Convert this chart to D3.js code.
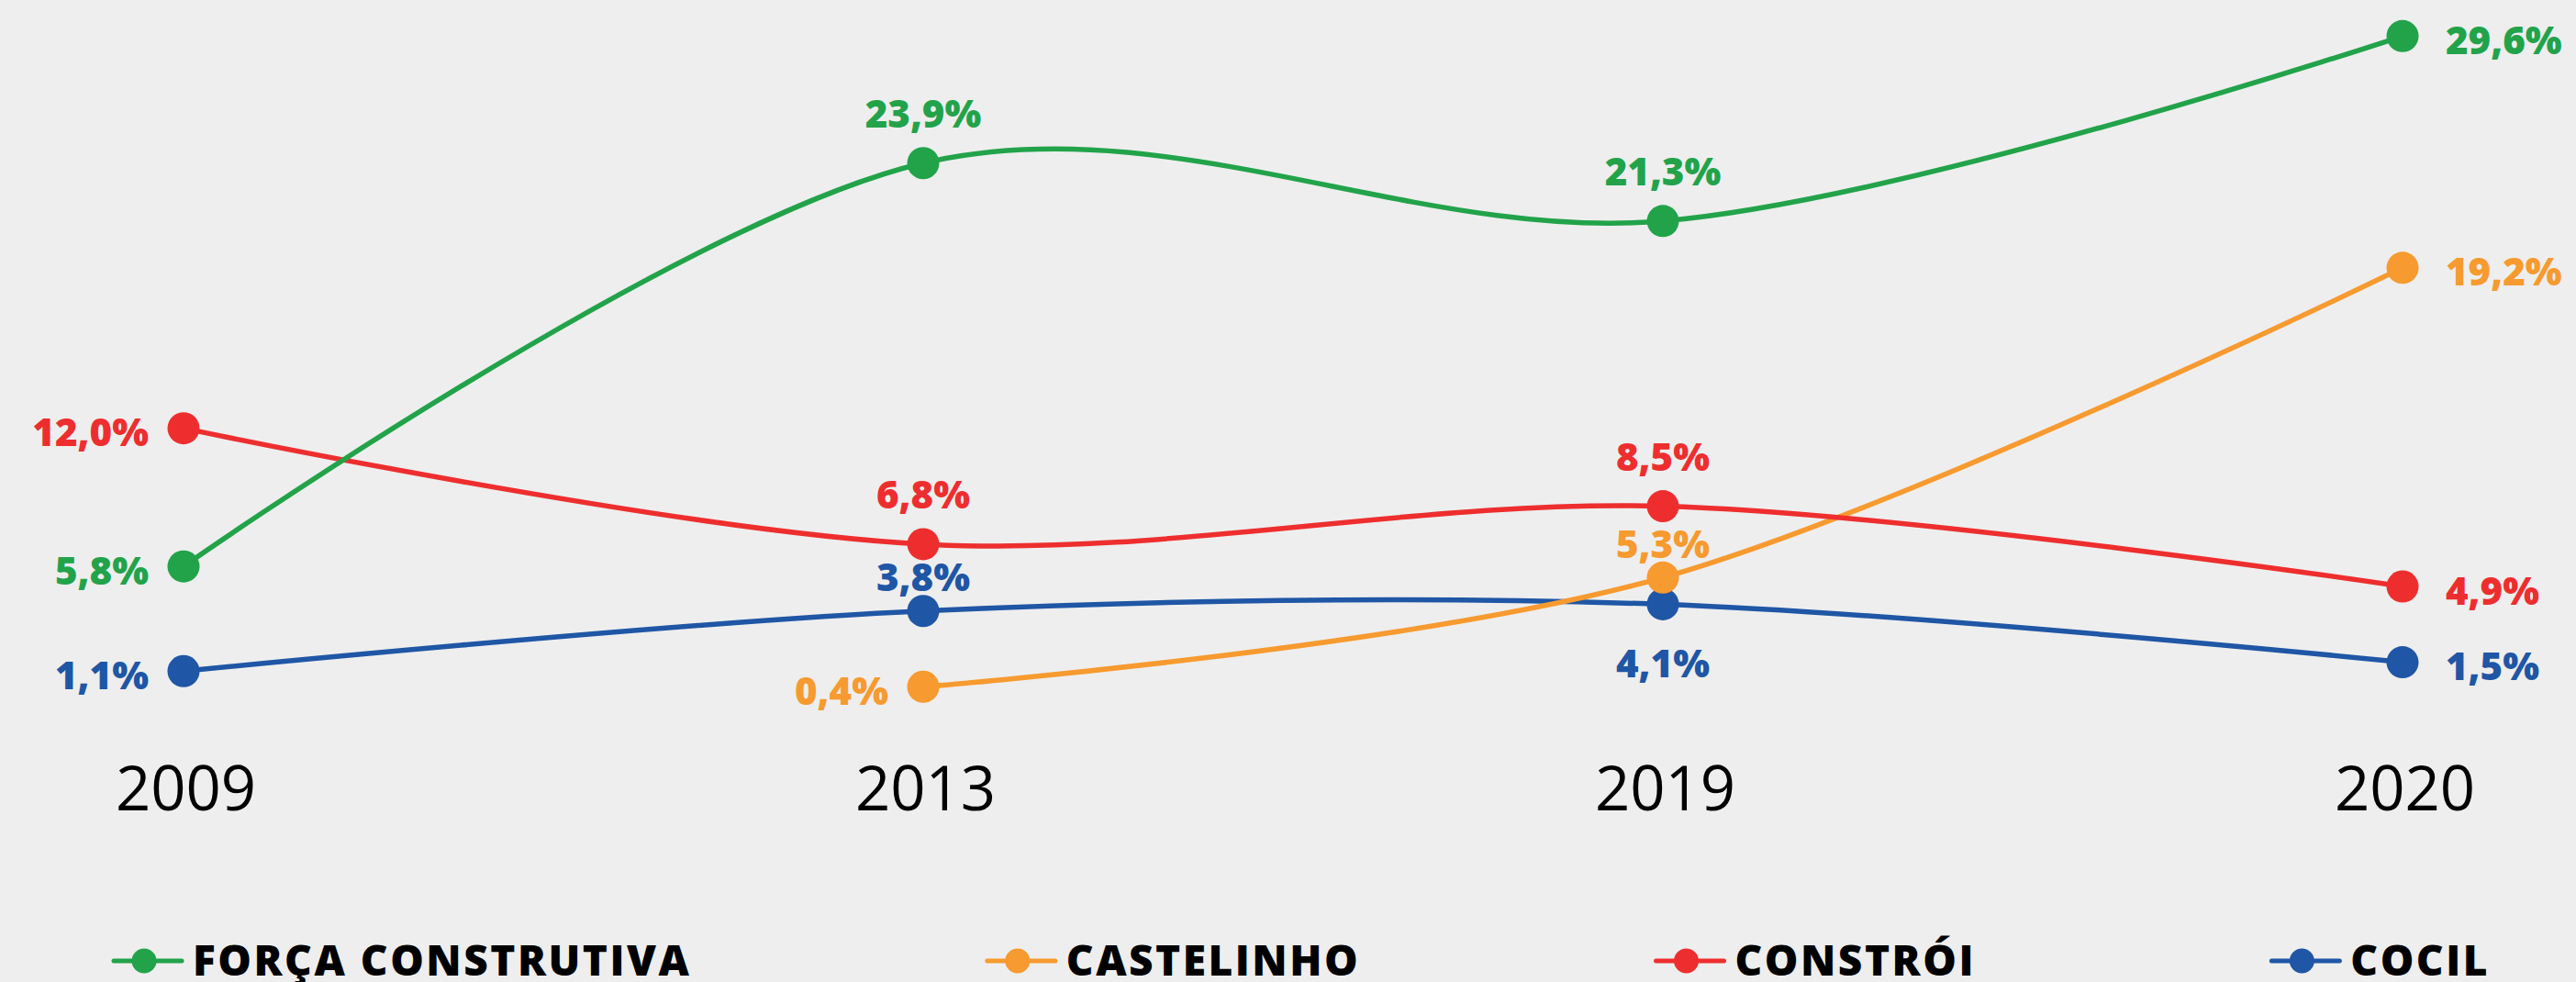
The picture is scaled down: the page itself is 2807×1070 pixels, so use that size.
<!DOCTYPE html>
<html>
<head>
<meta charset="utf-8">
<script src="https://cdn.jsdelivr.net/npm/d3@7"></script>
<style>
  html, body { margin: 0; padding: 0; background: #eeeeee; }
  svg { display: block; }
  .value-label { font-family: 'Open Sans', sans-serif; font-weight: 800; font-size: 42px; }
  .year-label { font-family: 'Open Sans', sans-serif; font-weight: 400; font-size: 67px; fill: #000; }
  .legend-label { font-family: 'Open Sans', sans-serif; font-weight: 800; font-size: 46px; letter-spacing: 2.5px; fill: #000; }
</style>
</head>
<body>
<div id="chart"></div>
<script>
const width = 2807;
const height = 1070;

const years = ['2009', '2013', '2019', '2020'];
const seriesNames = ['FORÇA CONSTRUTIVA', 'CASTELINHO', 'CONSTRÓI', 'COCIL'];
const seriesColors = ['#22a34a', '#f79a2f', '#ee2e2e', '#1f56a5'];

const forcaValues = [5.8, 23.9, 21.3, 29.6];
const castelinhoValues = [null, 0.4, 5.3, 19.2];
const construiValues = [12.0, 6.8, 8.5, 4.9];
const cocilValues = [1.1, 3.8, 4.1, 1.5];

// where each value label sits relative to its point
const forcaPlace = ['left', 'above', 'above', 'right'];
const castelinhoPlace = [null, 'left', 'above-near', 'right'];
const construiPlace = ['left', 'above', 'above', 'right'];
const cocilPlace = ['left', 'above-near', 'below', 'right'];

const seriesValues = [forcaValues, castelinhoValues, construiValues, cocilValues];
const seriesPlaces = [forcaPlace, castelinhoPlace, construiPlace, cocilPlace];

const svg = d3.select('#chart')
  .append('svg')
    .attr('width', width)
    .attr('height', height);

svg.append('rect')
    .attr('width', width)
    .attr('height', height)
    .attr('fill', '#eeeeee');

const x = d3.scalePoint()
    .domain(years)
    .range([200, 2618]);

const y = d3.scaleLinear()
    .domain([0, 30])
    .range([758, 29.6]);

const line = d3.line()
    .x((d) => x(d.year))
    .y((d) => y(d.value))
    .curve(d3.curveCardinal);

const fmt = (v) => v.toFixed(1).replace('.', ',') + '%';

// x axis, year labels only
const xAxis = svg.append('g')
    .attr('class', 'axis-x')
    .attr('transform', 'translate(0,883)')
    .call(d3.axisBottom(x).tickSize(0).tickPadding(0));
xAxis.select('.domain').remove();
xAxis.selectAll('text')
    .attr('class', 'year-label')
    .attr('dy', 0)
    .attr('y', 0)
    .attr('x', 2);

const drawOrder = [3, 1, 2, 0];

function seriesPoints(si) {
  return years
    .map((yr, i) => ({ year: yr, value: seriesValues[si][i], place: seriesPlaces[si][i] }))
    .filter((d) => d.value !== null);
}

drawOrder.forEach((si) => {
  const valid = seriesPoints(si);
  const g = svg.append('g').attr('class', 'series');

  g.append('path')
      .datum(valid)
      .attr('fill', 'none')
      .attr('stroke', seriesColors[si])
      .attr('stroke-width', 5.5)
      .attr('d', line);

  g.selectAll('circle')
    .data(valid)
    .enter().append('circle')
      .attr('cx', (d) => x(d.year))
      .attr('cy', (d) => y(d.value))
      .attr('r', 17.5)
      .attr('fill', seriesColors[si]);
});

// value labels
drawOrder.forEach((si) => {
  svg.append('g')
    .selectAll('text')
    .data(seriesPoints(si))
    .enter().append('text')
      .attr('class', 'value-label')
      .attr('fill', seriesColors[si])
      .attr('dominant-baseline', 'central')
      .attr('text-anchor', (d) => d.place === 'left' ? 'end' : d.place === 'right' ? 'start' : 'middle')
      .attr('x', (d) => {
        if (d.place === 'left') return x(d.year) - 38;
        if (d.place === 'right') return x(d.year) + 47;
        return x(d.year);
      })
      .attr('y', (d) => {
        const cy = y(d.value);
        if (d.place === 'above') return cy - 55;
        if (d.place === 'above-near') return cy - 38;
        if (d.place === 'below') return cy + 63;
        return cy + 3;
      })
      .text((d) => fmt(d.value));
});

// legend spread across the width
const legendLeft = 122;
const legendRight = 2713;
const legendY = 1047;
const symbolWidth = 78;
const symbolGap = 10;

const legend = svg.append('g').attr('class', 'legend');
const items = legend.selectAll('g')
  .data(seriesNames)
  .enter().append('g');

items.append('text')
    .attr('class', 'legend-label')
    .attr('x', symbolWidth + symbolGap)
    .attr('y', 16)
    .text((d) => d);

const itemWidths = [];
items.each(function() {
  itemWidths.push(symbolWidth + symbolGap + d3.select(this).select('text').node().getComputedTextLength());
});
const gap = (legendRight - legendLeft - d3.sum(itemWidths)) / (seriesNames.length - 1);
let cursor = legendLeft;
items.attr('transform', (d, i) => {
  const t = 'translate(' + cursor + ',' + legendY + ')';
  cursor += itemWidths[i] + gap;
  return t;
});

items.append('line')
    .attr('x1', 2)
    .attr('x2', symbolWidth - 2)
    .attr('y1', 0)
    .attr('y2', 0)
    .attr('stroke', (d, i) => seriesColors[i])
    .attr('stroke-width', 5)
    .attr('stroke-linecap', 'round');

items.append('circle')
    .attr('cx', 35)
    .attr('cy', 0)
    .attr('r', 13.5)
    .attr('fill', (d, i) => seriesColors[i]);
</script>
</body>
</html>
